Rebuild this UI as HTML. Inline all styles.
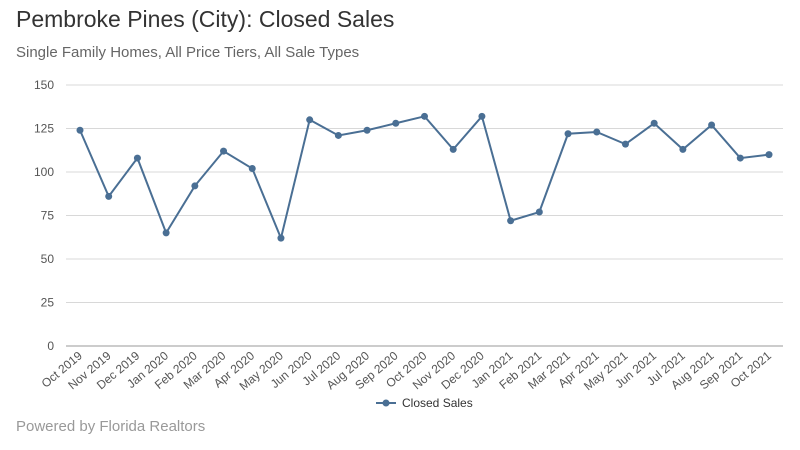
<!DOCTYPE html>
<html><head><meta charset="utf-8"><style>
body{margin:0;background:#fff;font-family:"Liberation Sans",sans-serif;}
#wrap{position:relative;width:800px;height:450px;overflow:hidden;}
.t{position:absolute;left:16px;}
</style></head><body>
<div id="wrap">
<div class="t" style="top:6px;font-size:23px;color:#333;">Pembroke Pines (City): Closed Sales</div>
<div class="t" style="top:44px;font-size:15px;color:#666;">Single Family Homes, All Price Tiers, All Sale Types</div>
<div class="t" style="top:418px;font-size:15px;color:#999;">Powered by Florida Realtors</div>
<svg id="chart" width="800" height="450" style="position:absolute;left:0;top:0"></svg>
</div>
<script>
const categories=["Oct 2019","Nov 2019","Dec 2019","Jan 2020","Feb 2020","Mar 2020","Apr 2020","May 2020","Jun 2020","Jul 2020","Aug 2020","Sep 2020","Oct 2020","Nov 2020","Dec 2020","Jan 2021","Feb 2021","Mar 2021","Apr 2021","May 2021","Jun 2021","Jul 2021","Aug 2021","Sep 2021","Oct 2021"];
const closedSales=[124,86,108,65,92,112,102,62,130,121,124,128,132,113,132,72,77,122,123,116,128,113,127,108,110];
const yTicks=[0,25,50,75,100,125,150];
const svg=document.getElementById('chart');
const NS='http://www.w3.org/2000/svg';
const x0=80,x1=769,yB=346,yT=85,yMax=150;
const xs=i=>x0+(x1-x0)*i/(categories.length-1);
const ys=v=>yB-(yB-yT)*v/yMax;
function mk(t,a){const e=document.createElementNS(NS,t);for(const k in a)e.setAttribute(k,a[k]);svg.appendChild(e);return e;}
yTicks.forEach(v=>{
 const l=mk('line',{x1:66,x2:783,y1:ys(v),y2:ys(v),stroke:v===0?'#999':'#d8d8d8','stroke-width':1});
 
 
 const t=mk('text',{x:54,y:ys(v)+4,'text-anchor':'end','font-size':12,fill:'#555','font-family':'Liberation Sans,sans-serif'});
 t.textContent=v;
 
 
});
categories.forEach((c,i)=>{
 const t=mk('text',{x:xs(i)+3,y:357,'text-anchor':'end','font-size':12,fill:'#555','font-family':'Liberation Sans,sans-serif',transform:`rotate(-40 ${xs(i)+3} 357)`});
 t.textContent=c;
 
 
});
const p=mk('polyline',{points:closedSales.map((v,i)=>xs(i)+','+ys(v)).join(' '),fill:'none',stroke:'#4a6f94','stroke-width':2});


closedSales.forEach((v,i)=>{
 const c=mk('circle',{cx:xs(i),cy:ys(v),r:3.5,fill:'#4a6f94'});
 
 
});
const ll=mk('line',{x1:376,x2:396,y1:403,y2:403,stroke:'#4a6f94','stroke-width':2});


const lc=mk('circle',{cx:386,cy:403,r:3.5,fill:'#4a6f94'});


const lt=mk('text',{x:402,y:407,'font-size':12,fill:'#333','font-family':'Liberation Sans,sans-serif'});
lt.textContent='Closed Sales';


</script>
</body></html>
